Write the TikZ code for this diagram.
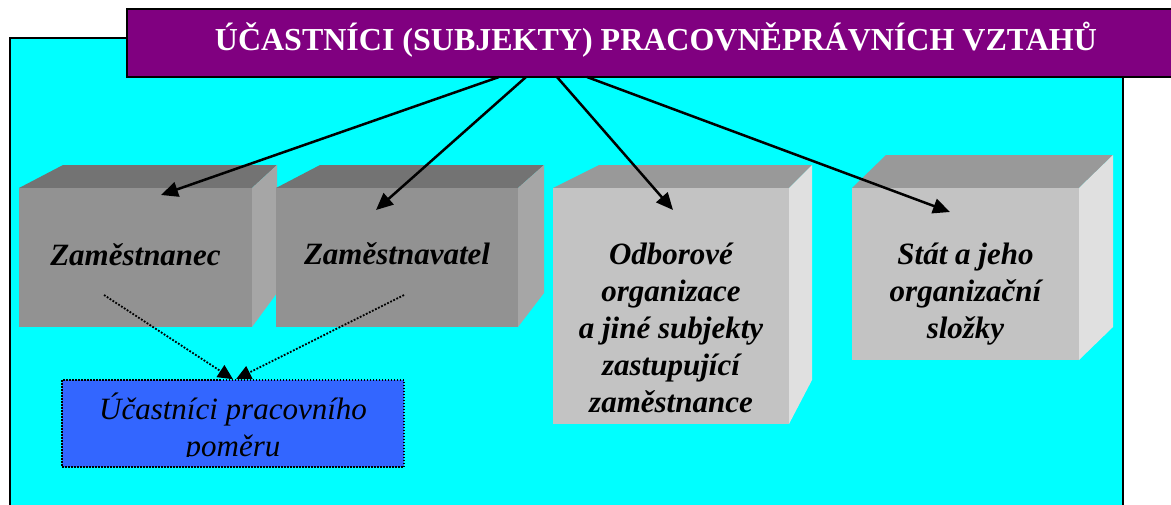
\documentclass[tikz,border=0pt]{standalone}
\usepackage{fontspec}
\setmainfont{Liberation Serif}
\usetikzlibrary{arrows.meta,calc}
\definecolor{titlepurple}{HTML}{800080}
\definecolor{bgcyan}{HTML}{00FFFF}
\definecolor{boxblue}{HTML}{3366FF}
\definecolor{frontdark}{HTML}{929292}
\definecolor{topdark}{HTML}{737373}
\definecolor{sidedark}{HTML}{A6A6A6}
\definecolor{frontlight}{HTML}{C3C3C3}
\definecolor{toplight}{HTML}{999999}
\definecolor{sidelight}{HTML}{E0E0E0}
\begin{document}
\begin{tikzpicture}[x=1pt,y=-1pt,
  cubetext/.style={font=\fontsize{31}{37}\selectfont\bfseries\itshape,align=center,inner sep=0},
  mainarrow/.style={line width=2.5pt,-{Triangle[length=17pt,width=15pt]}},
  dotarrow/.style={line width=1.8pt,dash pattern=on 1.8pt off 1.6pt,-{Triangle[length=15pt,width=14pt]}}]
  \useasboundingbox (0,0) rectangle (1171,504);
  \draw[fill=bgcyan,line width=2.5pt] (10,38) rectangle (1123,530);
  \node[fill=titlepurple,draw=black,line width=2pt,minimum width=1058,minimum height=68,text=white,
    font=\fontsize{32}{38}\selectfont\bfseries,text height=21pt,text depth=7pt] (title) at (656,43)
    {ÚČASTNÍCI (SUBJEKTY) PRACOVNĚPRÁVNÍCH VZTAHŮ};
  \foreach \n/\x/\y/\w/\h/\b/\s/\d/\k/\c in {
      1/19/188/233/139/44/25/23/34/dark,
      2/276/188/242/139/44/26/23/34/dark,
      3/553/188/236/236/46/23/23/44/light,
      4/852/188/227/172/34/34/33/33/light}{
    \fill[top\c] (\x,\y) -- ++(\b,-\d) -- (\x+\w+\s,\y-\d) -- (\x+\w,\y) -- cycle;
    \fill[side\c] (\x+\w,\y) -- ++(\s,-\d) -- (\x+\w+\s,\y+\h-\k) -- (\x+\w,\y+\h) -- cycle;
    \node[fill=front\c,minimum width=\w,minimum height=\h,inner sep=0,outer sep=0,anchor=north west] (f\n) at (\x,\y) {};
  }
  \node[cubetext] (zam) at (135.5,254.5) {Zaměstnanec};
  \node[cubetext] (zvl) at (397,254) {Zaměstnavatel};
  \node[cubetext] (odb) at (671,328) {Odborové\\organizace\\a jiné subjekty\\zastupující\\zaměstnance};
  \node[cubetext] (stat) at (965.5,294.5) {Stát a jeho\\organizační\\složky};
  \node[fill=boxblue,draw=black,line width=1.5pt,dash pattern=on 1.5pt off 1.5pt,minimum width=342,minimum height=87] (ucast) at (233,423.5) {};
  \begin{scope}
    \clip (ucast.north west) rectangle ($(ucast.south east)+(0,-11)$);
    \node[font=\fontsize{31}{37}\selectfont\itshape,align=center,inner sep=0] (ucasttext) at (233,428) {Účastníci pracovního\\poměru};
  \end{scope}
  \coordinate (s1) at (499,77);
  \coordinate (s2) at (526,77);
  \coordinate (s3) at (557,77);
  \coordinate (s4) at (587,77);
  \coordinate (a1) at (161,195);
  \coordinate (a2) at (376,210);
  \coordinate (a3) at (673,210);
  \coordinate (a4) at (950,212);
  \foreach \i in {1,...,4}{
    \draw[mainarrow] (s\i) -- (a\i);
  }
  \coordinate (d1) at (104,295);
  \coordinate (d2) at (404,295);
  \draw[dotarrow] (d1) -- (ucast.north);
  \draw[dotarrow] (d2) -- ([xshift=3pt]ucast.north);
\end{tikzpicture}
\end{document}
